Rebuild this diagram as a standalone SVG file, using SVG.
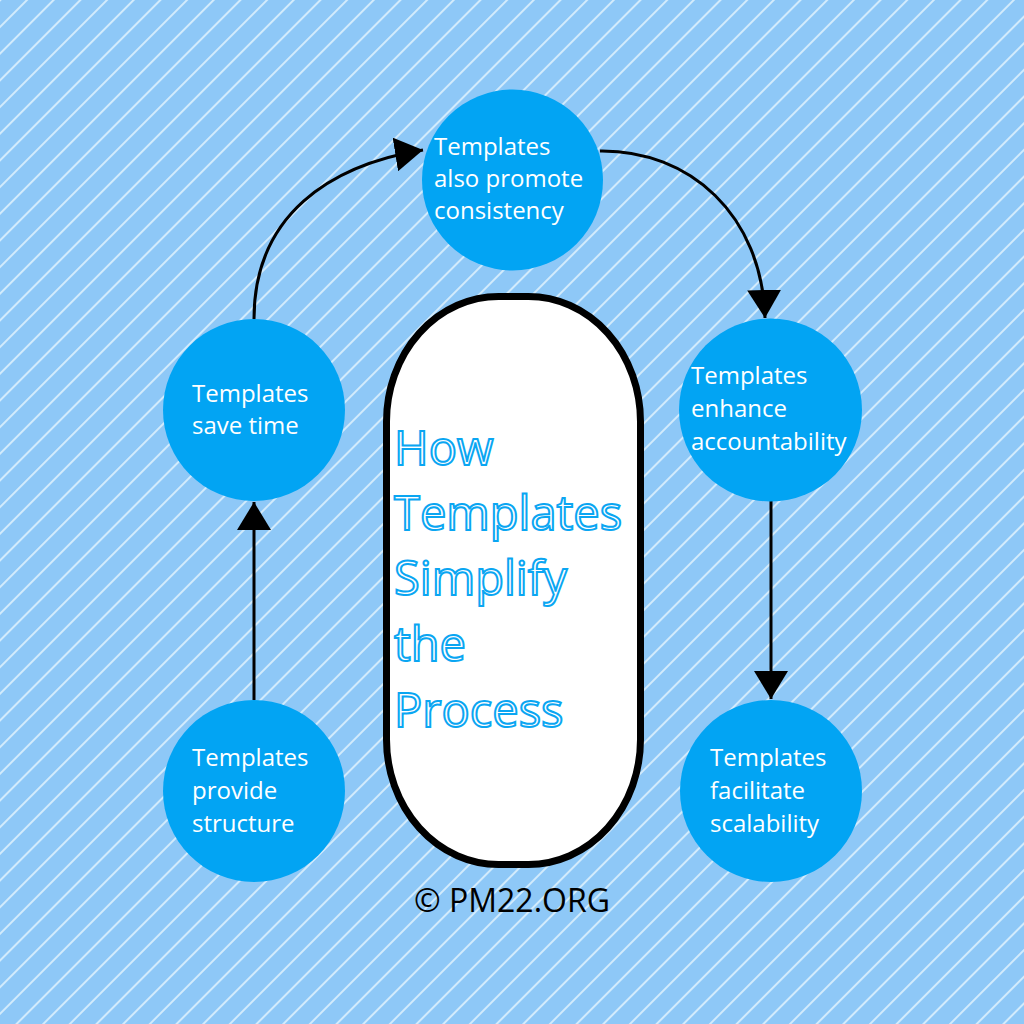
<svg xmlns="http://www.w3.org/2000/svg" width="1024" height="1024" viewBox="0 0 1024 1024">
  <defs>
    <pattern id="stripes" patternUnits="userSpaceOnUse" x="-0.76" y="0" width="18.86" height="18.86" patternTransform="rotate(45)">
      <rect x="0" y="0" width="18.86" height="18.86" fill="#8ec8f7"/>
      <rect x="0" y="0" width="2" height="18.86" fill="#d2ebfc"/>
    </pattern>
    <marker id="arrow" markerUnits="userSpaceOnUse" markerWidth="28" markerHeight="34" viewBox="0 0 28 34" refX="28" refY="17" orient="auto">
      <path d="M0,0 L28,17 L0,34 Z" fill="#000"/>
    </marker>
    <style>
      .node { fill: #02a4f3; }
      .label { font-family: "Open Sans", "Noto Sans", "Liberation Sans", sans-serif; font-size: 24px; fill: #ffffff; }
      .conn { fill: none; stroke: #000; stroke-width: 3; marker-end: url(#arrow); }
      .title { font-family: "Open Sans", "Noto Sans", "Liberation Sans", sans-serif; font-size: 47px; fill: #ffffff; stroke: #0aa6f2; stroke-width: 2; }
    </style>
  </defs>

  <rect x="0" y="0" width="1024" height="1024" fill="url(#stripes)"/>

  <g id="connectors">
    <path class="conn" d="M254,700 L254,502"/>
    <path class="conn" d="M254,319 C254,215 330,165 423,150"/>
    <path class="conn" d="M600,151 C690,150 762,215 765,318"/>
    <path class="conn" d="M771,501 L771,699"/>
  </g>

  <g id="center">
    <rect x="386.5" y="296.5" width="254" height="568" rx="112" ry="125" fill="#ffffff" stroke="#000" stroke-width="7"/>
    <text class="title">
      <tspan x="394" y="465">How</tspan>
      <tspan x="394" y="530">Templates</tspan>
      <tspan x="394" y="595">Simplify</tspan>
      <tspan x="394" y="661">the</tspan>
      <tspan x="394" y="727">Process</tspan>
    </text>
  </g>

  <g id="node-consistency">
    <circle class="node" cx="512.5" cy="180" r="90.5"/>
    <text class="label">
      <tspan x="434" y="155">Templates</tspan>
      <tspan x="434" y="187">also promote</tspan>
      <tspan x="434" y="219">consistency</tspan>
    </text>
  </g>

  <g id="node-save-time">
    <circle class="node" cx="254" cy="410" r="91"/>
    <text class="label">
      <tspan x="192" y="402">Templates</tspan>
      <tspan x="192" y="434">save time</tspan>
    </text>
  </g>

  <g id="node-accountability">
    <circle class="node" cx="770.5" cy="410" r="91.5"/>
    <text class="label">
      <tspan x="691" y="384">Templates</tspan>
      <tspan x="691" y="417">enhance</tspan>
      <tspan x="691" y="450">accountability</tspan>
    </text>
  </g>

  <g id="node-structure">
    <circle class="node" cx="254" cy="791" r="91"/>
    <text class="label">
      <tspan x="192" y="766">Templates</tspan>
      <tspan x="192" y="799">provide</tspan>
      <tspan x="192" y="832">structure</tspan>
    </text>
  </g>

  <g id="node-scalability">
    <circle class="node" cx="771" cy="791" r="91"/>
    <text class="label">
      <tspan x="710" y="766">Templates</tspan>
      <tspan x="710" y="799">facilitate</tspan>
      <tspan x="710" y="832">scalability</tspan>
    </text>
  </g>

  <text x="512" y="912" text-anchor="middle" font-family="'Open Sans', 'Noto Sans', 'Liberation Sans', sans-serif" font-size="32" fill="#000">© PM22.ORG</text>
</svg>
